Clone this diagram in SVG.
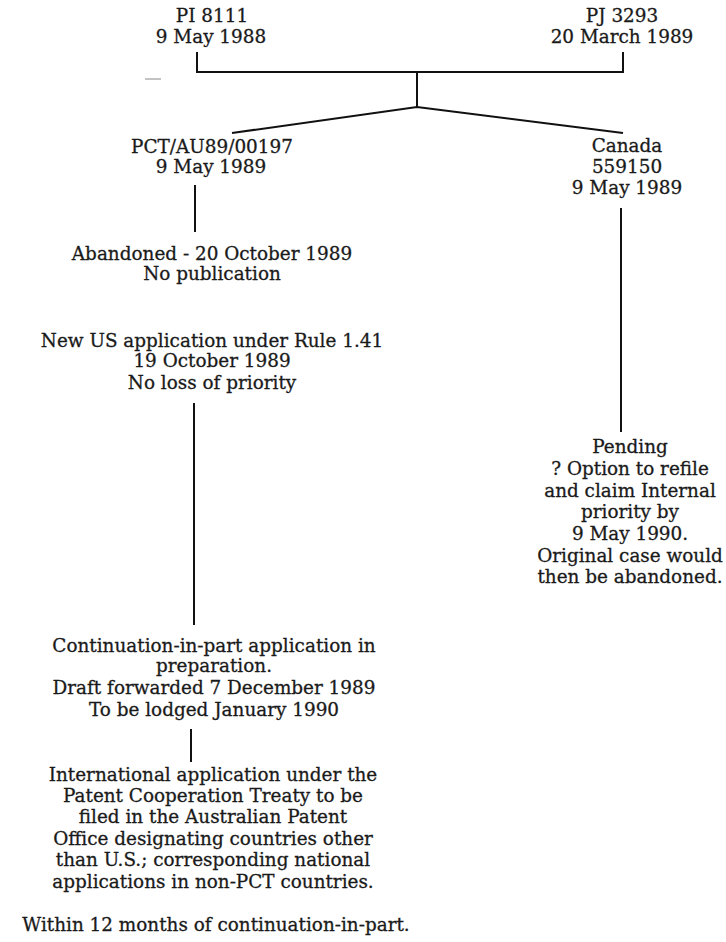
<svg xmlns="http://www.w3.org/2000/svg" width="726" height="942" viewBox="0 0 726 942">
<style>
text{font-family:"DejaVu Serif","Liberation Serif",serif;font-size:18.4px;fill:#1a1a1a;stroke:#1a1a1a;stroke-width:0.3;text-anchor:middle}
.c{fill:none;stroke:#111;stroke-width:2;stroke-linecap:butt;stroke-linejoin:miter}
</style>
<rect width="726" height="942" fill="#fff"/>
<g id="connectors">
<path class="c" d="M197,52 V72 H623 V52"/>
<path class="c" d="M417,72 V107"/>
<path class="c" d="M232,133 L417,107 L623,133"/>
<path class="c" d="M195,185 V232"/>
<path class="c" d="M194,403 V625"/>
<path class="c" d="M191,729 V762"/>
<path class="c" d="M621,208 V432"/>
<path d="M145,79 H161" stroke="#888" stroke-width="1" fill="none"/>
</g>
<g id="pi8111"><text x="212" y="22">PI 8111</text><text x="211" y="43">9 May 1988</text></g>
<g id="pj3293"><text x="622" y="22">PJ 3293</text><text x="622" y="43">20 March 1989</text></g>
<g id="pct"><text x="212" y="153">PCT/AU89/00197</text><text x="211" y="173">9 May 1989</text></g>
<g id="canada"><text x="627" y="152">Canada</text><text x="627" y="173">559150</text><text x="627" y="194">9 May 1989</text></g>
<g id="abandoned"><text x="212" y="260">Abandoned - 20 October 1989</text><text x="212" y="280">No publication</text></g>
<g id="newus"><text x="212" y="347">New US application under Rule 1.41</text><text x="212" y="367">19 October 1989</text><text x="212" y="389">No loss of priority</text></g>
<g id="pending"><text x="630" y="453">Pending</text><text x="630" y="475">? Option to refile</text><text x="630" y="497">and claim Internal</text><text x="630" y="518">priority by</text><text x="630" y="540">9 May 1990.</text><text x="630" y="562">Original case would</text><text x="630" y="583">then be abandoned.</text></g>
<g id="cip"><text x="214" y="652">Continuation-in-part application in</text><text x="214" y="672">preparation.</text><text x="214" y="694">Draft forwarded 7 December 1989</text><text x="214" y="716">To be lodged January 1990</text></g>
<g id="international"><text x="213" y="781">International application under the</text><text x="213" y="802">Patent Cooperation Treaty to be</text><text x="213" y="823">filed in the Australian Patent</text><text x="213" y="845">Office designating countries other</text><text x="213" y="866">than U.S.; corresponding national</text><text x="213" y="888">applications in non-PCT countries.</text></g>
<g id="within"><text x="216" y="931">Within 12 months of continuation-in-part.</text></g>
</svg>
